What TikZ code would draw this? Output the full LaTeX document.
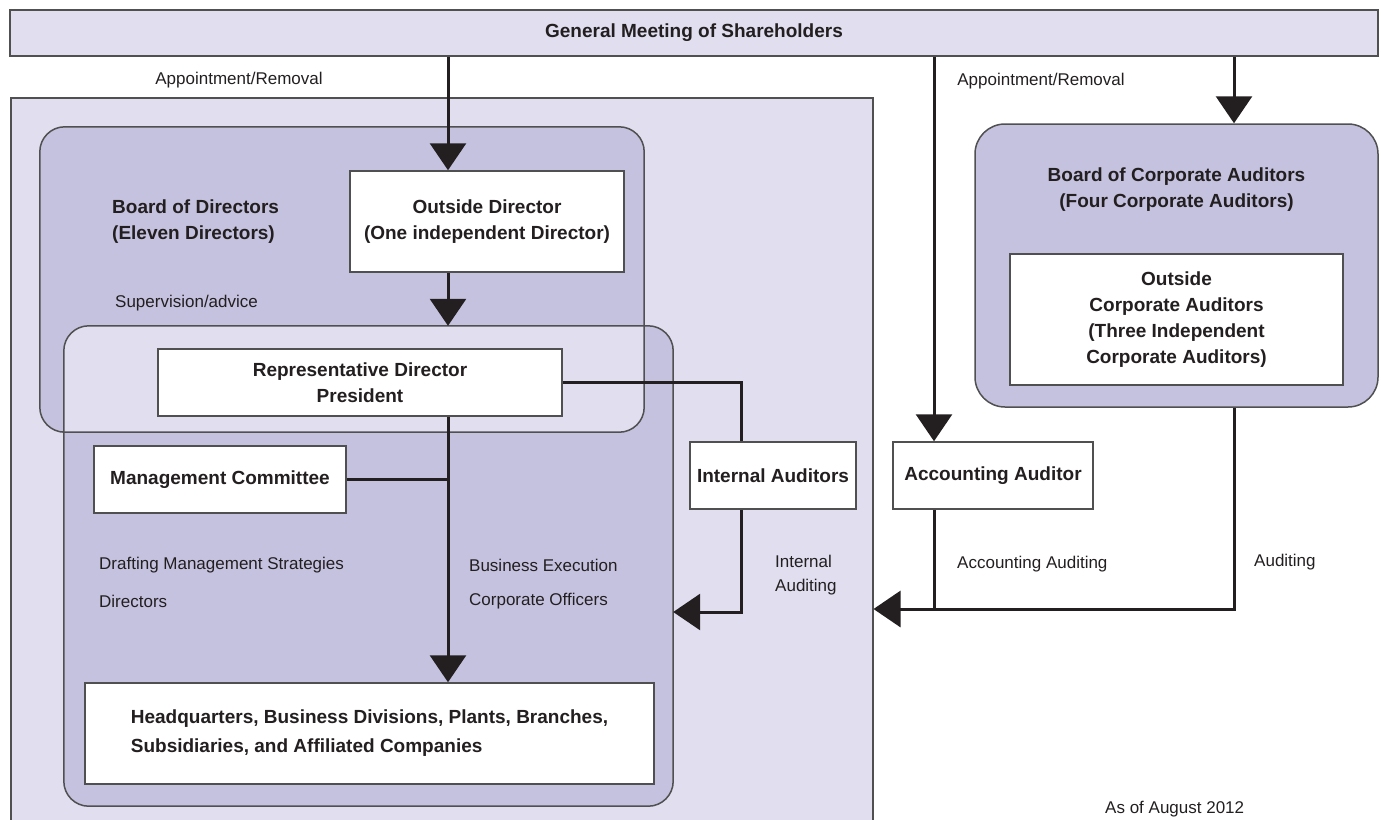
\documentclass[tikz,border=0pt]{standalone}
\usepackage{fontspec}
\setmainfont{Liberation Sans}
\usetikzlibrary{arrows.meta}
\definecolor{lightp}{RGB}{224,222,239}
\definecolor{darkp}{RGB}{197,194,224}
\definecolor{ink}{RGB}{35,31,32}
\definecolor{edgec}{RGB}{80,80,80}
\begin{document}
\begin{tikzpicture}[x=1pt,y=-1pt,
  boldtxt/.style={font=\fontsize{19}{26}\selectfont\bfseries, text=ink},
  wbox/.style={draw=edgec, line width=1.5pt, fill=white, inner sep=0pt, align=center, boldtxt},
  conn/.style={draw=ink, line width=3pt},
  arr/.style={conn, -{Triangle[width=36pt,length=27pt]}},
  lbl/.style={font=\fontsize{17}{24}\selectfont, text=ink, inner sep=0pt},
  rbox/.style={draw=edgec, line width=1.5pt, rounded corners=25pt}]
\useasboundingbox (0,0) rectangle (1381,819);
\clip (0,0) rectangle (1381,819);

% General meeting bar
\node[draw=edgec, line width=1.5pt, fill=lightp, minimum width=1368pt, minimum height=46pt, inner sep=0pt, boldtxt] (gm) at (694,33) {General Meeting of Shareholders};

% outer light area
\node[draw=edgec, line width=1.5pt, fill=lightp, minimum width=862pt, minimum height=753pt, inner sep=0pt, anchor=north west] (outer) at (10,97) {};

% board of directors and executive areas (positions)
\node[minimum width=604pt, minimum height=305pt, inner sep=0pt] (bod) at (342,279.5) {};
\node[minimum width=609pt, minimum height=480pt, inner sep=0pt] (exec) at (368.5,566) {};
\fill[darkp, even odd rule, rounded corners=25pt] (bod.north west) rectangle (bod.south east) (exec.north west) rectangle (exec.south east);
\draw[rbox] (bod.north west) rectangle (bod.south east);
\draw[rbox] (exec.north west) rectangle (exec.south east);

% board of corporate auditors
\node[draw=edgec, line width=1.5pt, fill=darkp, rounded corners=30pt, minimum width=403pt, minimum height=283pt, inner sep=0pt] (bca) at (1176.5,265.5) {};
\node[boldtxt, align=center, inner sep=0pt] (bcat) at (1176.5,189.5) {Board of Corporate Auditors\\(Four Corporate Auditors)};

% white boxes
\node[wbox, minimum width=274pt, minimum height=101pt] (od) at (487,221.5) {Outside Director\\(One independent Director)};
\node[wbox, minimum width=404pt, minimum height=67pt] (rd) at (360,382.5) {Representative Director\\President};
\node[wbox, minimum width=252pt, minimum height=67pt] (mc) at (220,479.5) {Management Committee};
\node[wbox, minimum width=569pt, minimum height=101pt, font=\fontsize{19}{29}\selectfont\bfseries, align=left] (hq) at (369.5,733.5) {Headquarters, Business Divisions, Plants, Branches,\\Subsidiaries, and Affiliated Companies};
\node[wbox, minimum width=166pt, minimum height=67pt] (ia) at (773,475.5) {Internal Auditors};
\node[wbox, minimum width=200pt, minimum height=67pt] (aa) at (993,475.5) {Accounting Auditor};
\node[wbox, minimum width=333pt, minimum height=131pt, font=\fontsize{19}{26}\selectfont\bfseries] (oca) at (1176.5,319.5) {Outside\\Corporate Auditors\\(Three Independent\\Corporate Auditors)};

\node[boldtxt, align=left, inner sep=0pt, anchor=west] (bodt) at (112,221.5) {Board of Directors\\(Eleven Directors)};

% helper coordinates
\coordinate (xm) at (448,0);
\coordinate (xi) at (741,0);
\coordinate (xa) at (934,0);
\coordinate (xb) at (1234,0);
\coordinate (yi) at (0,612);
\coordinate (ya) at (0,609);

% connectors
\draw[arr] (gm.south -| xm) -- (od.north -| xm);
\draw[arr] (od.south -| xm) -- (exec.north -| xm);
\draw[arr] (rd.south -| xm) -- (hq.north -| xm);
\draw[conn] (mc.east) -- (mc.east -| xm);
\draw[conn] (rd.east) -| (ia.north -| xi);
\draw[arr] (ia.south -| xi) |- (exec.east |- yi);
\draw[arr] (gm.south -| xa) -- (aa.north -| xa);
\draw[arr] (gm.south -| xb) -- (bca.north -| xb);
\draw[conn] (aa.south -| xa) -- (xa |- ya);
\draw[arr] (bca.south -| xb) |- (outer.east |- ya);

% labels
\node[lbl] (l1) at (239,80) {Appointment/Removal};
\node[lbl] (l2) at (1041,81) {Appointment/Removal};
\node[lbl, anchor=west] (l3) at (115,303) {Supervision/advice};
\node[lbl, anchor=west] (l4) at (99,565) {Drafting Management Strategies};
\node[lbl, anchor=west] (l5) at (99,601) {Directors};
\node[lbl, anchor=west] (l6) at (469,565) {Business Execution};
\node[lbl, anchor=west] (l7) at (469,601) {Corporate Officers};
\node[lbl, anchor=west, align=left] (l8) at (775,575) {Internal\\Auditing};
\node[lbl, anchor=west] (l9) at (957,564) {Accounting Auditing};
\node[lbl, anchor=west] (l10) at (1254,562) {Auditing};
\node[lbl, anchor=base west] (l11) at (1105,813) {As of August 2012};
\end{tikzpicture}
\end{document}
